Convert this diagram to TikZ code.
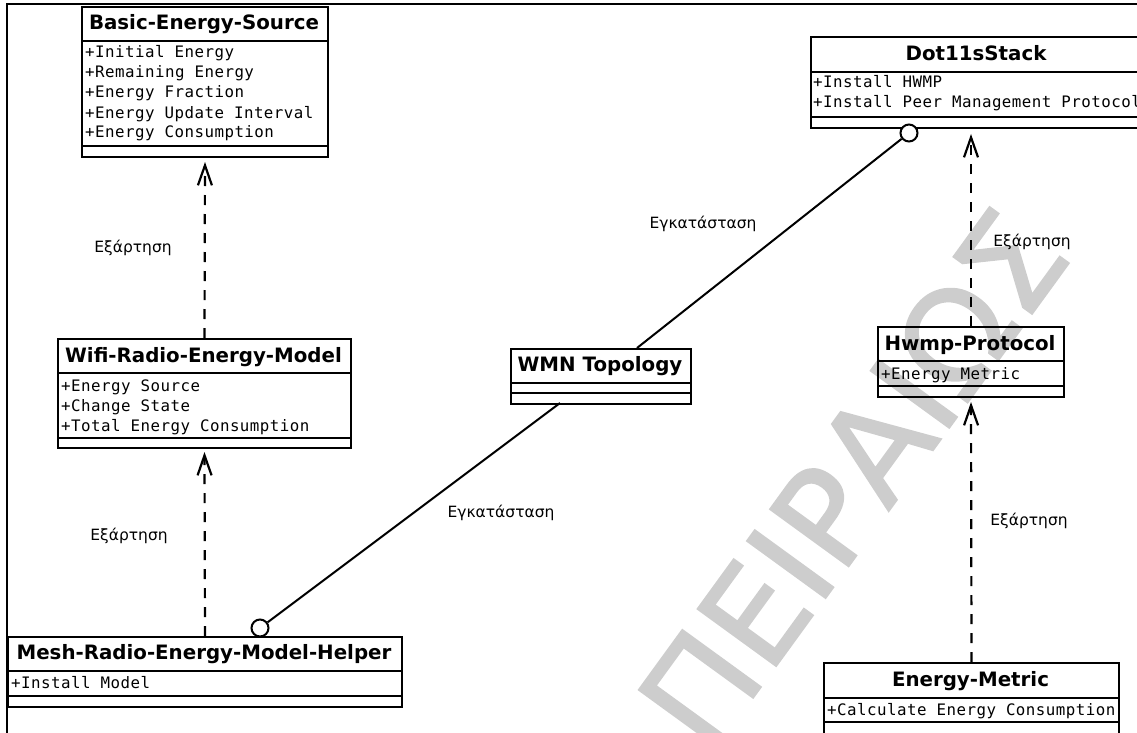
\documentclass[tikz,border=0pt]{standalone}
\usepackage{fontspec}
\setmainfont{DejaVu Sans}
\newfontfamily\monof{DejaVu Sans Mono}[LetterSpace=3]
\newfontfamily\lblfam{DejaVu Sans}
\newfontfamily\wmfam{DejaVu Sans}[FakeBold=1.5]
\usetikzlibrary{arrows.meta}
\definecolor{wmgray}{RGB}{205,205,205}
\begin{document}
\begin{tikzpicture}[x=1pt,y=-1pt,
  classbox/.style={draw, line width=2pt, inner sep=0pt, anchor=north west},
  sepline/.style={line width=2pt},
  ctitle/.style={font={\bfseries\fontsize{19.8}{24}\selectfont}, anchor=base, inner sep=0pt},
  cattr/.style={font={\monof\fontsize{15.8}{20}\selectfont}, anchor=base west, inner sep=0pt},
  lbl/.style={font={\lblfam\fontsize{15.5}{18}\selectfont}, inner sep=0pt},
  dep/.style={line width=2.2pt, dash pattern=on 10pt off 9pt, -{Straight Barb[length=20pt,width=14pt]}},
  assoc/.style={line width=2pt},
  lolly/.style={circle, draw, fill=white, line width=2pt, minimum size=17pt, inner sep=0pt},
  frameline/.style={line width=2pt},
  watermark/.style={font={\wmfam\fontsize{133}{133}\selectfont}, text=wmgray, rotate=54, inner sep=0pt}
]
\useasboundingbox (0,0) rectangle (1137,733);
\clip (0,0) rectangle (1137,733);

% watermark
\node[watermark] (wm) at (852,478) {ΠΕΙΡΑΙΩΣ};

% frame
\draw[frameline] (7,740) -- (7,4) -- (1140,4);

% Basic-Energy-Source
\node[classbox, minimum width=246pt, minimum height=150pt] (bes) at (81,6) {};
\node[ctitle] (bes-t) at (204,30) {Basic-Energy-Source};
\draw[sepline] (81,41) -- (327,41) (81,146) -- (327,146);
\node[cattr] (bes-a1) at (85,58) {+Initial Energy};
\node[cattr] (bes-a2) at (85,78) {+Remaining Energy};
\node[cattr] (bes-a3) at (85,98) {+Energy Fraction};
\node[cattr] (bes-a4) at (85,118) {+Energy Update Interval};
\node[cattr] (bes-a5) at (85,138) {+Energy Consumption};

% Dot11sStack
\node[classbox, minimum width=332pt, minimum height=91pt] (dot) at (810,36) {};
\node[ctitle] (dot-t) at (976,61) {Dot11sStack};
\draw[sepline] (810,72) -- (1142,72) (810,117) -- (1142,117);
\node[cattr] (dot-a1) at (813,88) {+Install HWMP};
\node[cattr] (dot-a2) at (813,108) {+Install Peer Management Protocol};

% Wifi-Radio-Energy-Model
\node[classbox, minimum width=293pt, minimum height=109pt] (wifi) at (57,338) {};
\node[ctitle] (wifi-t) at (203.5,362) {Wifi-Radio-Energy-Model};
\draw[sepline] (57,373) -- (350,373) (57,438) -- (350,438);
\node[cattr] (wifi-a1) at (61,391) {+Energy Source};
\node[cattr] (wifi-a2) at (61,411) {+Change State};
\node[cattr] (wifi-a3) at (61,431) {+Total Energy Consumption};

% WMN Topology
\node[classbox, minimum width=180pt, minimum height=55pt] (wmn) at (510,348) {};
\node[ctitle] (wmn-t) at (600,371) {WMN Topology};
\draw[sepline] (510,383) -- (690,383) (510,393) -- (690,393);

% Hwmp-Protocol
\node[classbox, minimum width=186pt, minimum height=70pt] (hwmp) at (877,326) {};
\node[ctitle] (hwmp-t) at (970,350) {Hwmp-Protocol};
\draw[sepline] (877,361) -- (1063,361) (877,386) -- (1063,386);
\node[cattr] (hwmp-a1) at (881,379) {+Energy Metric};

% Mesh-Radio-Energy-Model-Helper
\node[classbox, minimum width=394pt, minimum height=70pt] (mesh) at (7,636) {};
\node[ctitle] (mesh-t) at (204,659) {Mesh-Radio-Energy-Model-Helper};
\draw[sepline] (7,671) -- (401,671) (7,696) -- (401,696);
\node[cattr] (mesh-a1) at (11,688) {+Install Model};

% Energy-Metric
\node[classbox, minimum width=295pt, minimum height=80pt] (em) at (823,662) {};
\node[ctitle] (em-t) at (970.5,686) {Energy-Metric};
\draw[sepline] (823,698) -- (1118,698) (823,722) -- (1118,722);
\begin{scope}
  \clip (823,698) rectangle (1117,722);
  \node[cattr] (em-a1) at (827,715) {+Calculate Energy Consumption};
\end{scope}

% dependencies
\draw[dep, shorten >=4pt] (wifi.north) -- (bes.south);
\draw[dep, shorten >=3pt] (mesh.north) -- (wifi.south);
\draw[dep, shorten >=4pt] (em.north) -- (hwmp.south);
\draw[dep, shorten >=5pt] (hwmp.north) -- (hwmp.north |- dot.south);

% associations
\coordinate (w1) at (637,348);
\coordinate (w2) at (560,403);
\node[lolly] (c1) at (909,133) {};
\node[lolly] (c2) at (260,628) {};
\draw[assoc] (c1) -- (w1);
\draw[assoc] (w2) -- (c2);

% labels
\node[lbl] (l1) at (133,248) {Εξάρτηση};
\node[lbl] (l2) at (129,536) {Εξάρτηση};
\node[lbl] (l3) at (1032,242) {Εξάρτηση};
\node[lbl] (l4) at (1029,521) {Εξάρτηση};
\node[lbl] (l5) at (703,224) {Εγκατάσταση};
\node[lbl] (l6) at (501,513) {Εγκατάσταση};
\end{tikzpicture}
\end{document}
